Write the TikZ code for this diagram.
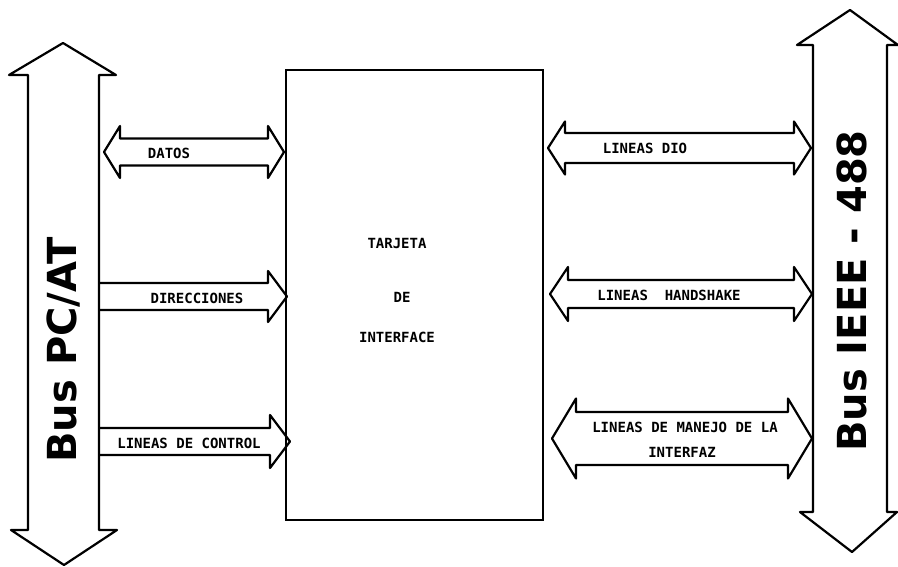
\documentclass[tikz,border=0pt]{standalone}
\usepackage{fontspec}
\newfontfamily\dotfont{DejaVu Sans Mono}
\newfontfamily\busfont{DejaVu Sans}
\newcommand\BlkDbl[6]{% x1 x2 yc shafthalf headhalf headlen
  \draw[blk] (#1,#3) -- ({#1+#6},{#3-#5}) -- ({#1+#6},{#3-#4}) -- ({#2-#6},{#3-#4})
    -- ({#2-#6},{#3-#5}) -- (#2,#3) -- ({#2-#6},{#3+#5}) -- ({#2-#6},{#3+#4})
    -- ({#1+#6},{#3+#4}) -- ({#1+#6},{#3+#5}) -- cycle;}
\newcommand\BlkOne[6]{% x1 (open) x2 yc shafthalf headhalf headlen
  \draw[blk] (#1,{#3-#4}) -- ({#2-#6},{#3-#4}) -- ({#2-#6},{#3-#5}) -- (#2,#3)
    -- ({#2-#6},{#3+#5}) -- ({#2-#6},{#3+#4}) -- (#1,{#3+#4});}
\begin{document}
\begin{tikzpicture}[x=1pt,y=-1pt,
  blk/.style={line width=2.2pt,line join=round},
  lbl/.style={font=\dotfont\bfseries\fontsize{14}{16}\selectfont,inner sep=0pt},
  buslbl/.style={font=\busfont\bfseries\fontsize{40}{44}\selectfont,inner sep=0pt,rotate=90}]
\path[use as bounding box] (0,0) rectangle (898,567);
% left bus
\draw[blk] (63,43) -- (116,75) -- (99,75) -- (99,530) -- (117,530) -- (64,565)
  -- (11,530) -- (28,530) -- (28,75) -- (9,75) -- cycle;
\node[buslbl] (pcat) at (64,350) {Bus PC/AT};
% right bus
\draw[blk] (850,10) -- (898,45) -- (887,45) -- (887,512) -- (897,512) -- (852,552)
  -- (800,512) -- (813,512) -- (813,45) -- (797,45) -- cycle;
\node[buslbl] (ieee) at (852,291) {Bus IEEE - 488};
% central card
\node[draw,line width=2.2pt,minimum width=257pt,minimum height=450pt,inner sep=0pt] (card) at (414.5,295) {};
\node[lbl] (t1) at (397,243) {TARJETA};
\node[lbl] (t2) at (402,297) {DE};
\node[lbl] (t3) at (397,337) {INTERFACE};
% left arrows
\BlkDbl{104}{284}{152}{13.5}{26}{16}
\node[lbl] (datos) at (169,153) {DATOS};
\BlkOne{99}{287}{296.5}{13.5}{25.5}{19}
\node[lbl] (dir) at (197,298) {DIRECCIONES};
\BlkOne{99}{290}{441.5}{13.5}{26.5}{20}
\node[lbl] (ctrl) at (189,443) {LINEAS DE CONTROL};
% right arrows
\BlkDbl{548}{811}{148}{15}{26.5}{17}
\node[lbl] (dio) at (645,148) {LINEAS DIO};
\BlkDbl{550}{812}{294}{14}{27}{18}
\node[lbl] (hs) at (669,295) {LINEAS\ \ HANDSHAKE};
\BlkDbl{552}{812}{438.5}{26.5}{40}{24}
\node[lbl] (man1) at (685,427) {LINEAS DE MANEJO DE LA};
\node[lbl] (man2) at (682,452) {INTERFAZ};
\end{tikzpicture}
\end{document}
